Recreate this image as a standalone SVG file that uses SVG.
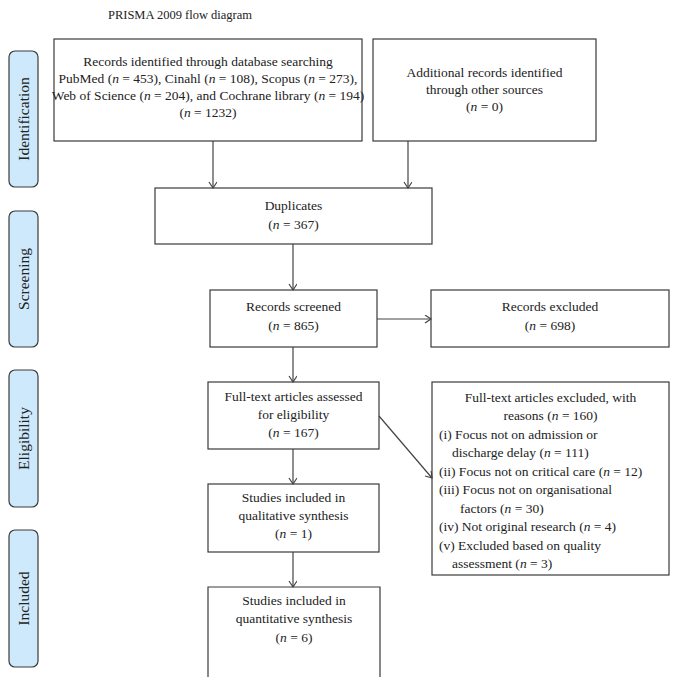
<svg xmlns="http://www.w3.org/2000/svg" width="678" height="686" viewBox="0 0 678 686">
<defs>
<style>
text{font-family:"Liberation Serif","Times New Roman",serif;font-size:13.5px;fill:#222;}
.c{text-anchor:middle;}
.box{fill:#fff;stroke:#3a3a3a;stroke-width:1.2;}
.tab{fill:#cde9fb;stroke:#3a3a3a;stroke-width:1.2;}
.tt{font-size:15.5px;text-anchor:middle;}
.ln{stroke:#444;stroke-width:1.2;fill:none;marker-end:url(#ah);}
.i{font-style:italic;}
</style>
<marker id="ah" markerUnits="userSpaceOnUse" markerWidth="10" markerHeight="10" refX="8" refY="4" orient="auto">
<path d="M2,0 L8,4 L2,8" fill="none" stroke="#444" stroke-width="1.2"/>
</marker>
</defs>
<rect width="678" height="686" fill="#fff"/>
<text x="180" y="19" class="c" style="font-size:12.5px">PRISMA 2009 flow diagram</text>

<g id="tab-identification"><rect class="tab" x="9" y="51" width="29" height="136" rx="6"/><text class="tt" transform="translate(29,119) rotate(-90)">Identification</text></g>
<g id="tab-screening"><rect class="tab" x="9" y="211" width="29" height="136" rx="6"/><text class="tt" transform="translate(29,279) rotate(-90)">Screening</text></g>
<g id="tab-eligibility"><rect class="tab" x="9" y="370" width="29" height="137" rx="6"/><text class="tt" transform="translate(29,438.5) rotate(-90)">Eligibility</text></g>
<g id="tab-included"><rect class="tab" x="9" y="530" width="29" height="137" rx="6"/><text class="tt" transform="translate(29,598.5) rotate(-90)">Included</text></g>

<g id="db-search"><rect class="box" x="54" y="39" width="308" height="102"/>
<text class="c" x="208" y="66">Records identified through database searching</text>
<text class="c" x="208" y="83">PubMed (<tspan class="i">n</tspan> = 453), Cinahl (<tspan class="i">n</tspan> = 108), Scopus (<tspan class="i">n</tspan> = 273),</text>
<text class="c" x="208" y="100">Web of Science (<tspan class="i">n</tspan> = 204), and Cochrane library (<tspan class="i">n</tspan> = 194)</text>
<text class="c" x="208" y="117">(<tspan class="i">n</tspan> = 1232)</text></g>

<g id="other-sources"><rect class="box" x="373" y="39" width="223" height="102"/>
<text class="c" x="484.5" y="77">Additional records identified</text>
<text class="c" x="484.5" y="94">through other sources</text>
<text class="c" x="484.5" y="111">(<tspan class="i">n</tspan> = 0)</text></g>

<g id="duplicates"><rect class="box" x="155" y="188" width="277" height="56"/>
<text class="c" x="293.5" y="210">Duplicates</text>
<text class="c" x="293.5" y="229">(<tspan class="i">n</tspan> = 367)</text></g>

<g id="screened"><rect class="box" x="210" y="290" width="167" height="57"/>
<text class="c" x="293.5" y="311">Records screened</text>
<text class="c" x="293.5" y="330">(<tspan class="i">n</tspan> = 865)</text></g>

<g id="excluded"><rect class="box" x="431" y="290" width="238" height="57"/>
<text class="c" x="550" y="311">Records excluded</text>
<text class="c" x="550" y="330">(<tspan class="i">n</tspan> = 698)</text></g>

<g id="fulltext"><rect class="box" x="208" y="382" width="171" height="67"/>
<text class="c" x="293.5" y="401">Full-text articles assessed</text>
<text class="c" x="293.5" y="419">for eligibility</text>
<text class="c" x="293.5" y="437">(<tspan class="i">n</tspan> = 167)</text></g>

<g id="fulltext-excluded"><rect class="box" x="432" y="382" width="237" height="193"/>
<text class="c" x="550.5" y="402">Full-text articles excluded, with</text>
<text class="c" x="550.5" y="420">reasons (<tspan class="i">n</tspan> = 160)</text>
<text x="439" y="439">(i) Focus not on admission or</text>
<text x="452" y="457">discharge delay (<tspan class="i">n</tspan> = 111)</text>
<text x="439" y="476">(ii) Focus not on critical care (<tspan class="i">n</tspan> = 12)</text>
<text x="439" y="494">(iii) Focus not on organisational</text>
<text x="460" y="513">factors (<tspan class="i">n</tspan> = 30)</text>
<text x="439" y="531">(iv) Not original research (<tspan class="i">n</tspan> = 4)</text>
<text x="439" y="550">(v) Excluded based on quality</text>
<text x="452" y="568">assessment (<tspan class="i">n</tspan> = 3)</text></g>

<g id="qualitative"><rect class="box" x="208" y="484" width="171" height="68"/>
<text class="c" x="293.5" y="502">Studies included in</text>
<text class="c" x="293.5" y="520">qualitative synthesis</text>
<text class="c" x="293.5" y="538">(<tspan class="i">n</tspan> = 1)</text></g>

<g id="quantitative"><path class="box" d="M208,677 V587 H380 V677"/>
<text class="c" x="294" y="605">Studies included in</text>
<text class="c" x="294" y="623">quantitative synthesis</text>
<text class="c" x="294" y="642">(<tspan class="i">n</tspan> = 6)</text></g>

<g id="connectors">
<line class="ln" x1="213" y1="141" x2="213" y2="188"/>
<line class="ln" x1="408" y1="141" x2="408" y2="188"/>
<line class="ln" x1="293" y1="244" x2="293" y2="290"/>
<line class="ln" x1="377" y1="319" x2="431" y2="319"/>
<line class="ln" x1="293" y1="347" x2="293" y2="382"/>
<line class="ln" x1="379" y1="416" x2="432" y2="478"/>
<line class="ln" x1="293" y1="449" x2="293" y2="484"/>
<line class="ln" x1="293" y1="552" x2="293" y2="587"/>
</g>
</svg>
